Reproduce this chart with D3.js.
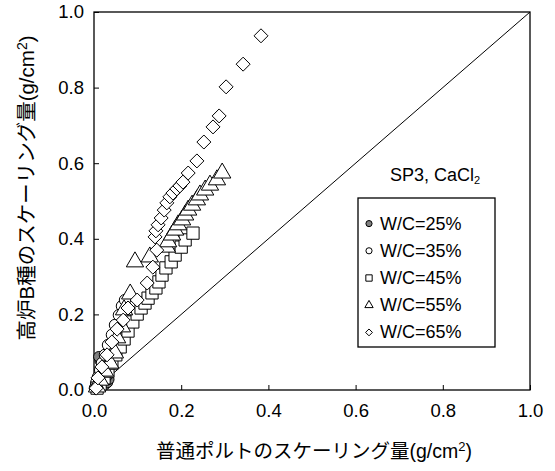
<!DOCTYPE html>
<html><head><meta charset="utf-8">
<script src="https://cdn.jsdelivr.net/npm/d3@7"></script>
<style>body{margin:0;background:#fff;}svg{display:block;}</style>
</head><body><svg id="c" width="555" height="471"></svg>
<script>
const xTicks=[0,0.2,0.4,0.6,0.8,1.0];
const yTicks=[0,0.2,0.4,0.6,0.8,1.0];
const seriesNames=["W/C=25%","W/C=35%","W/C=45%","W/C=55%","W/C=65%"];
const wc25=[[0.003,0.003],[0.01,0.006],[0.018,0.01],[0.025,0.014],[0.031,0.02],[0.034,0.028],[0.031,0.038],[0.027,0.048],[0.022,0.058],[0.018,0.068],[0.014,0.078],[0.011,0.088]];
const wc35=[[0.002,0.005],[0.005,0.019],[0.009,0.034],[0.014,0.053],[0.018,0.071],[0.025,0.093],[0.032,0.119],[0.041,0.146],[0.048,0.172],[0.057,0.198],[0.064,0.222],[0.071,0.238]];
const wc45=[[0.007,0.005],[0.014,0.016],[0.023,0.032],[0.032,0.05],[0.041,0.071],[0.05,0.093],[0.06,0.114],[0.069,0.135],[0.078,0.156],[0.089,0.18],[0.099,0.201],[0.108,0.217],[0.117,0.23],[0.124,0.243],[0.133,0.257],[0.142,0.27],[0.149,0.286],[0.156,0.304],[0.165,0.323],[0.177,0.339],[0.186,0.357],[0.2,0.378],[0.209,0.397],[0.227,0.415]];
const wc55=[[0.007,0.008],[0.014,0.026],[0.025,0.05],[0.037,0.071],[0.048,0.098],[0.053,0.138],[0.064,0.167],[0.069,0.212],[0.083,0.254],[0.094,0.339],[0.128,0.352],[0.167,0.378],[0.17,0.392],[0.179,0.41],[0.186,0.423],[0.193,0.437],[0.202,0.45],[0.209,0.463],[0.216,0.476],[0.225,0.489],[0.236,0.503],[0.243,0.516],[0.255,0.529],[0.266,0.542],[0.282,0.556],[0.294,0.574]];
const wc65=[[0.005,0.005],[0.009,0.032],[0.018,0.061],[0.03,0.093],[0.041,0.127],[0.053,0.161],[0.067,0.185],[0.078,0.217],[0.099,0.238],[0.122,0.283],[0.135,0.325],[0.144,0.37],[0.14,0.405],[0.142,0.421],[0.147,0.437],[0.154,0.455],[0.161,0.476],[0.167,0.495],[0.174,0.511],[0.181,0.521],[0.19,0.532],[0.197,0.54],[0.204,0.55],[0.216,0.574],[0.236,0.606],[0.252,0.656],[0.273,0.696],[0.287,0.725],[0.303,0.802],[0.342,0.862],[0.383,0.937]];

const svg=d3.select("#c");
const L=94,R=530,T=12,B=390;
const x=d3.scaleLinear().domain([0,1]).range([L,R]);
const y=d3.scaleLinear().domain([0,1]).range([B,T]);
const font="'Liberation Sans', Arial, sans-serif";
const jfont="'Liberation Sans', 'Noto Sans CJK JP', sans-serif";

// frame
svg.append("rect").attr("x",L).attr("y",T).attr("width",R-L).attr("height",B-T)
  .attr("fill","none").attr("stroke","#000").attr("stroke-width",1.3);
// diagonal
svg.append("line").attr("x1",x(0)).attr("y1",y(0)).attr("x2",x(1)).attr("y2",y(1))
  .attr("stroke","#000").attr("stroke-width",1);

// axes
const xa=svg.append("g").attr("transform",`translate(0,${B})`)
  .call(d3.axisBottom(x).tickValues(xTicks).tickFormat(d3.format(".1f")).tickSizeInner(-5).tickSizeOuter(0).tickPadding(14));
const ya=svg.append("g").attr("transform",`translate(${L},0)`)
  .call(d3.axisLeft(y).tickValues(yTicks).tickFormat(d3.format(".1f")).tickSizeInner(-5).tickSizeOuter(0).tickPadding(10));
[xa,ya].forEach(g=>{g.select(".domain").remove();g.selectAll("line").attr("stroke","#000");
  g.selectAll("text").attr("font-family",font).attr("font-size",18.5).attr("fill","#000");});

// symbols
const shapes=[
  {data:wc25,type:d3.symbolCircle,size:85,fill:"#808080"},
  {data:wc35,type:d3.symbolCircle,size:100,fill:"#fff"},
  {data:wc45,type:d3.symbolSquare,size:150,fill:"#fff"},
  {data:wc55,type:d3.symbolTriangle,size:130,fill:"#fff"},
  {data:wc65,type:d3.symbolDiamond2,size:125,fill:"#fff"}
];
shapes.forEach(s=>{
  svg.append("g").selectAll("path").data(s.data).join("path")
    .attr("transform",d=>`translate(${x(d[0])},${y(d[1])})`)
    .attr("d",d3.symbol().type(s.type).size(s.size))
    .attr("fill",s.fill).attr("stroke","#000").attr("stroke-width",1);
});

// legend
svg.append("text").attr("x",390).attr("y",181).attr("font-family",font).attr("font-size",18)
  .html('SP3, CaCl<tspan font-size="11" dy="3">2</tspan>');
svg.append("rect").attr("x",358).attr("y",198).attr("width",137).attr("height",149)
  .attr("fill","#fff").attr("stroke","#000").attr("stroke-width",1.3);
const ly=d3.scaleBand().domain(seriesNames).range([212,348]);
seriesNames.forEach((n,i)=>{
  const cy=ly(n)+ly.bandwidth()/2-2;
  svg.append("path").attr("transform",`translate(369,${cy})`)
    .attr("d",d3.symbol().type(shapes[i].type).size(i==2?40:30))
    .attr("fill",shapes[i].fill).attr("stroke","#000").attr("stroke-width",1);
  svg.append("text").attr("x",380).attr("y",cy+6).attr("font-family",font).attr("font-size",18).text(n);
});

// axis titles
svg.append("text").attr("x",314).attr("y",458).attr("text-anchor","middle")
  .attr("font-family",jfont).attr("font-size",19.5)
  .html('普通ポルトのスケーリング量(g/cm<tspan font-size="13" dy="-7">2</tspan><tspan dy="7">)</tspan>');
svg.append("text").attr("transform","translate(34,188) rotate(-90)").attr("text-anchor","middle")
  .attr("font-family",jfont).attr("font-size",20.5)
  .html('高炉B種のスケーリング量(g/cm<tspan font-size="14" dy="-7">2</tspan><tspan dy="7">)</tspan>');
</script></body></html>
